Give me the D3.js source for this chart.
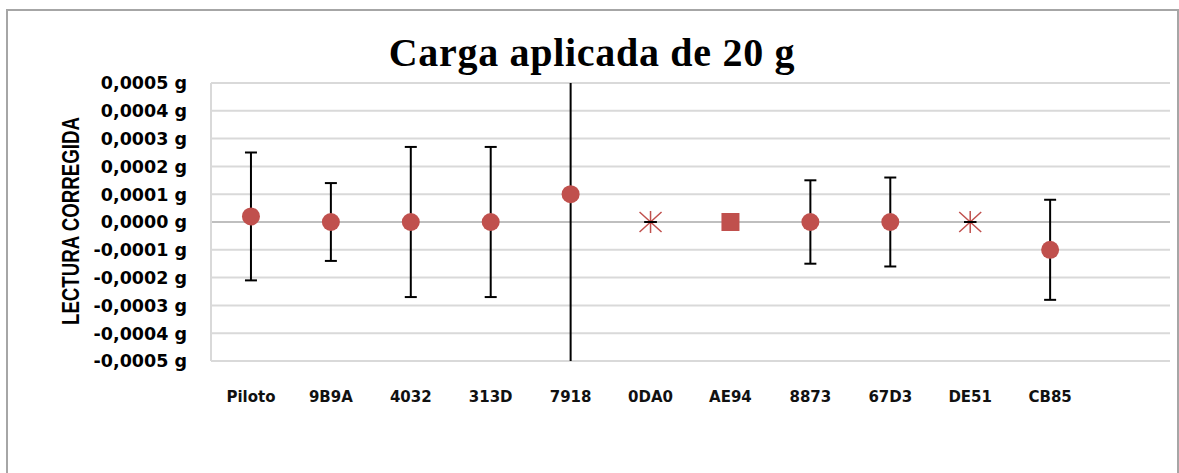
<!DOCTYPE html>
<html>
<head>
<meta charset="utf-8">
<script src="https://cdn.jsdelivr.net/npm/d3@7"></script>
<style>
  body { margin: 0; background: #fff; }
  svg { display: block; }
</style>
</head>
<body>
<svg width="1179" height="473"></svg>
<script>
// Data
var categories = ["Piloto", "9B9A", "4032", "313D", "7918", "0DA0", "AE94", "8873", "67D3", "DE51", "CB85"];
var values     = [0.00002, 0, 0, 0, 0.0001, 0, 0, 0, 0, 0, -0.0001];
var errors     = [0.00023, 0.00014, 0.00027, 0.00027, 0.0007, 0, 0, 0.00015, 0.00016, 0, 0.00018];
var markers    = ["circle", "circle", "circle", "circle", "circle", "star", "square", "circle", "circle", "star", "circle"];
var yTicks     = [0.0005, 0.0004, 0.0003, 0.0002, 0.0001, 0, -0.0001, -0.0002, -0.0003, -0.0004, -0.0005];

var svg = d3.select("svg");
var red = "#c0504d";

// chart border
svg.append("rect")
  .attr("x", 7).attr("y", 10)
  .attr("width", 1171).attr("height", 480)
  .attr("fill", "none")
  .attr("stroke", "#a6a6a6")
  .attr("stroke-width", 2);

var margin = {left: 211, right: 1170, top: 83, bottom: 361};

// one spare slot at the right, like the original
var x = d3.scaleBand()
  .domain(categories.concat([""]))
  .range([margin.left, margin.right]);

var y = d3.scaleLinear()
  .domain([-0.0005, 0.0005])
  .range([margin.bottom, margin.top]);

// gridlines
svg.append("g")
  .selectAll("line")
  .data(yTicks)
  .enter()
  .append("line")
    .attr("x1", margin.left)
    .attr("x2", margin.right)
    .attr("y1", function (d) { return y(d); })
    .attr("y2", function (d) { return y(d); })
    .attr("stroke", function (d) { return d === 0 ? "#bfbfbf" : "#d9d9d9"; })
    .attr("stroke-width", 2);

// y axis line
svg.append("line")
  .attr("x1", margin.left).attr("x2", margin.left)
  .attr("y1", margin.top).attr("y2", margin.bottom)
  .attr("stroke", "#d9d9d9")
  .attr("stroke-width", 2);

// y tick labels
var fmt = function (d) {
  return d3.format(".4f")(d).replace("−", "-").replace(".", ",") + " g";
};
svg.append("g")
  .selectAll("text")
  .data(yTicks)
  .enter()
  .append("text")
    .attr("x", 187)
    .attr("y", function (d) { return y(d); })
    .attr("dy", "0.36em")
    .attr("text-anchor", "end")
    .attr("font-family", "DejaVu Sans")
    .attr("font-weight", "bold")
    .attr("font-size", 17.5)
    .attr("fill", "#000")
    .text(fmt);

// y axis title
svg.append("text")
  .attr("transform", "translate(79," + ((margin.top + margin.bottom) / 2 - 1) + ") rotate(-90) scale(1,1.25)")
  .attr("text-anchor", "middle")
  .attr("font-family", "Liberation Sans")
  .attr("font-weight", "bold")
  .attr("font-size", 18.7)
  .text("LECTURA CORREGIDA");

// x labels
svg.append("g")
  .selectAll("text")
  .data(categories)
  .enter()
  .append("text")
    .attr("x", function (d) { return x(d) + x.bandwidth() / 2; })
    .attr("y", 402)
    .attr("text-anchor", "middle")
    .attr("font-family", "DejaVu Sans")
    .attr("font-weight", "bold")
    .attr("font-size", 15)
    .attr("fill", "#111")
    .text(function (d) { return d; });

// title
svg.append("text")
  .attr("x", 592)
  .attr("y", 66)
  .attr("text-anchor", "middle")
  .attr("font-family", "Liberation Serif")
  .attr("font-weight", "bold")
  .attr("font-size", 40)
  .attr("letter-spacing", 0.7)
  .text("Carga aplicada de 20 g");

// points
var pts = categories.map(function (c, i) {
  return {cat: c, v: values[i], e: errors[i], m: markers[i]};
});

svg.append("clipPath").attr("id", "plot")
  .append("rect")
  .attr("x", margin.left).attr("y", margin.top)
  .attr("width", margin.right - margin.left)
  .attr("height", margin.bottom - margin.top);

var cx = function (d) { return x(d.cat) + x.bandwidth() / 2; };

// error bars
var eb = svg.append("g")
  .attr("clip-path", "url(#plot)")
  .attr("stroke", "#000")
  .attr("stroke-width", 2);

eb.selectAll(".stem")
  .data(pts)
  .enter()
  .append("line")
    .attr("x1", cx).attr("x2", cx)
    .attr("y1", function (d) { return y(d.v + d.e); })
    .attr("y2", function (d) { return y(d.v - d.e); });

[1, -1].forEach(function (s) {
  eb.selectAll(".cap" + s)
    .data(pts)
    .enter()
    .append("line")
      .attr("x1", function (d) { return cx(d) - 6; })
      .attr("x2", function (d) { return cx(d) + 6; })
      .attr("y1", function (d) { return y(d.v + s * d.e); })
      .attr("y2", function (d) { return y(d.v + s * d.e); });
});

// markers
var mk = svg.append("g");
mk.selectAll("circle")
  .data(pts.filter(function (d) { return d.m === "circle"; }))
  .enter()
  .append("circle")
    .attr("cx", cx)
    .attr("cy", function (d) { return y(d.v); })
    .attr("r", 9)
    .attr("fill", red);

mk.selectAll("rect")
  .data(pts.filter(function (d) { return d.m === "square"; }))
  .enter()
  .append("rect")
    .attr("x", function (d) { return cx(d) - 9; })
    .attr("y", function (d) { return y(d.v) - 9; })
    .attr("width", 18)
    .attr("height", 18)
    .attr("fill", red);

mk.selectAll("path")
  .data(pts.filter(function (d) { return d.m === "star"; }))
  .enter()
  .append("path")
    .attr("transform", function (d) { return "translate(" + cx(d) + "," + y(d.v) + ")"; })
    .attr("d", "M-11,-10L11,10M-11,10L11,-10M0,-11V11")
    .attr("stroke", red)
    .attr("stroke-width", 1.5)
    .attr("fill", "none");

// the zero-length caps show through the stars
mk.selectAll(".zcap")
  .data(pts.filter(function (d) { return d.m === "star"; }))
  .enter()
  .append("line")
    .attr("x1", function (d) { return cx(d) - 6; })
    .attr("x2", function (d) { return cx(d) + 6; })
    .attr("y1", function (d) { return y(d.v); })
    .attr("y2", function (d) { return y(d.v); })
    .attr("stroke", "#000")
    .attr("stroke-width", 2);
</script>
</body>
</html>
